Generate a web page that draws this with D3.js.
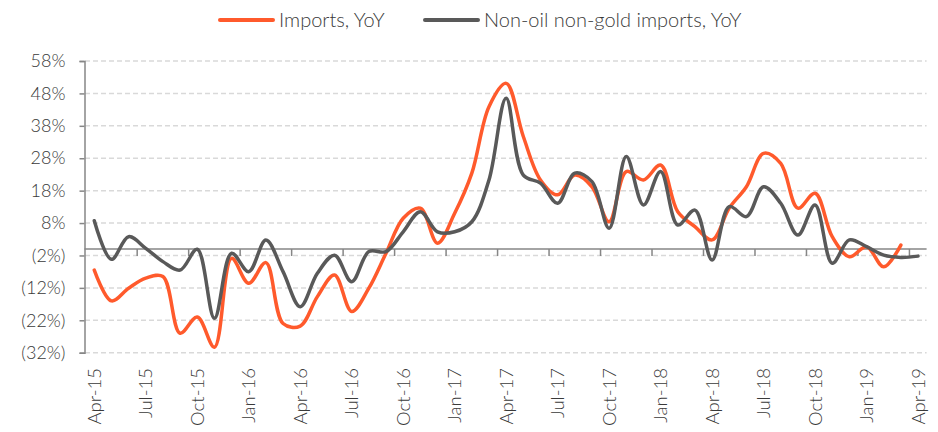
<!DOCTYPE html>
<html lang="en">
<head>
    <meta charset="UTF-8">
    <title>Imports YoY</title>
    <script src="https://d3js.org/d3.v7.min.js"></script>
    <style>
        body, html { margin: 0; background: #fff; }
        svg { display: block; font-family: Lato, "Open Sans", sans-serif; font-weight: 300; }
        .lbl { fill: #3a3a3a; }
    </style>
</head>
<body>
    <div id="chart"></div>
    <script>
        // monthly categories Apr-15 .. Apr-19
        var months = d3.timeMonths(new Date(2015, 3, 1), new Date(2019, 4, 1)).map(d3.timeFormat("%b-%y"));
        var tickLabels = ["Apr-15","Jul-15","Oct-15","Jan-16","Apr-16","Jul-16","Oct-16","Jan-17","Apr-17",
                          "Jul-17","Oct-17","Jan-18","Apr-18","Jul-18","Oct-18","Jan-19","Apr-19"];
        var yTicks = [58, 48, 38, 28, 18, 8, -2, -12, -22, -32];

        var imports = [-6.5, -16, -12.1, -9, -8.5, -26, -21, -30.3, -2.9, -10.6, -4.2, -23, -23.8,
                       -14.7, -8, -19.3, -12.1, -1.3, 9.5, 12.6, 1.8, 11, 23.4, 43.9, 51.1,
                       34.7, 21.3, 16.7, 22.8, 19.2, 8.4, 23.9, 21.3, 25.9, 11.5, 6.9, 2.8,
                       12.6, 19.2, 29.5, 26.4, 12.6, 17.2, 3.8, -2.4, 0.7, -5.5, 1.2, null];
        var nonOil = [8.7, -3.2, 3.8, 0.2, -3.9, -6.5, -0.1, -21.4, -1.3, -7, 2.8, -7, -17.8,
                      -7.5, -1.9, -10.1, -0.8, -0.8, 5.3, 11.5, 5.3, 5.3, 8.4, 21.3, 46.5,
                      22.8, 20.3, 14.1, 23.4, 20.8, 6.4, 28.5, 13.6, 23.9, 7.4, 12, -3.4,
                      13.1, 10, 19.2, 14.1, 4.3, 13.6, -4.4, 2.8, 0.7, -1.9, -2.6, -2.2];

        var series = [
            { name: "Imports, YoY", values: imports, color: "#ff5a2c" },
            { name: "Non-oil non-gold imports, YoY", values: nonOil, color: "#595959" }
        ];

        var width = 938, height = 432;
        var svg = d3.select("#chart").append("svg").attr("width", width).attr("height", height);

        var x = d3.scaleBand().domain(months).range([85.7, 926.6]);
        var y = d3.scaleLinear().domain([-32, 58]).range([352.7, 61]);
        var cx = m => x(m) + x.bandwidth() / 2;

        // gridlines
        svg.append("g").selectAll("line").data(yTicks).enter().append("line")
            .attr("x1", 85).attr("x2", 926.6)
            .attr("y1", d => y(d)).attr("y2", d => y(d))
            .attr("stroke", "#d9d9d9").attr("stroke-width", 1.5)
            .attr("stroke-dasharray", "5,3");

        // y axis
        var yAxis = d3.axisLeft(y).tickValues(yTicks).tickSize(5).tickPadding(14)
            .tickFormat(d => d < 0 ? "(" + Math.abs(d) + "%)" : d + "%");
        var gy = svg.append("g").attr("transform", "translate(84.5,0)").call(yAxis);
        gy.select(".domain").attr("stroke", "#868686").attr("stroke-width", 1.5);
        gy.selectAll(".tick line").attr("stroke", "#868686").attr("stroke-width", 1.5);
        gy.selectAll("text").attr("class", "lbl").style("font-size", "18px")
            .style("font-family", "Lato, sans-serif").style("font-weight", 300);

        // zero baseline with category ticks
        var every3 = months.filter((m, i) => i % 3 === 0);
        var xAxis = d3.axisBottom(x).tickValues(every3.slice(1)).tickSize(7).tickFormat("");
        var gx = svg.append("g").attr("transform", "translate(0," + y(0) + ")").call(xAxis);
        gx.select(".domain").attr("stroke", "#868686").attr("stroke-width", 1.5)
            .attr("d", "M84.5,0H926.6");
        gx.selectAll(".tick").attr("transform", d => "translate(" + x(d) + ",0)");
        gx.selectAll(".tick line").attr("stroke", "#868686").attr("stroke-width", 1.5);

        // category labels along the bottom
        svg.append("g").selectAll("text").data(tickLabels).enter().append("text")
            .attr("class", "lbl")
            .attr("transform", d => "translate(" + cx(d) + ",368) rotate(-90)")
            .attr("dy", "0.35em")
            .attr("text-anchor", "end")
            .style("font-size", "18.5px")
            .text(d => d);

        // lines
        var line = d3.line()
            .defined(d => d.v !== null)
            .x(d => cx(d.m))
            .y(d => y(d.v))
            .curve(d3.curveCatmullRom.alpha(0.5));

        series.forEach(function (s) {
            svg.append("path")
                .datum(months.map((m, i) => ({ m: m, v: s.values[i] })))
                .attr("fill", "none")
                .attr("stroke", s.color)
                .attr("stroke-width", 3.5)
                .attr("stroke-linejoin", "round")
                .attr("stroke-linecap", "round")
                .attr("d", line);
        });

        // legend
        var legendX = [220, 425];
        var legend = svg.append("g");
        series.forEach(function (s, i) {
            legend.append("line")
                .attr("x1", legendX[i]).attr("x2", legendX[i] + 53)
                .attr("y1", 20).attr("y2", 20)
                .attr("stroke", s.color).attr("stroke-width", 4)
                .attr("stroke-linecap", "round");
            legend.append("text").attr("class", "lbl")
                .attr("x", legendX[i] + 59).attr("y", 26.5)
                .style("font-size", "20px")
                .text(s.name);
        });
    </script>
</body>
</html>
